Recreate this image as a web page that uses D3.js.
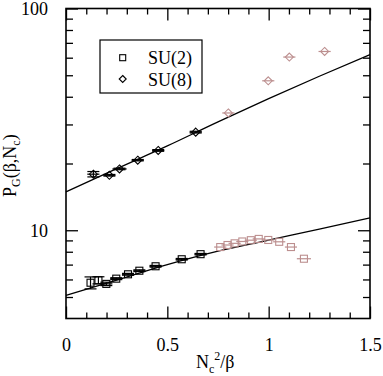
<!DOCTYPE html>
<html>
<head>
<meta charset="utf-8">
<script src="https://cdn.jsdelivr.net/npm/d3@7"></script>
<style>
  body { margin: 0; background: #fff; }
  svg text { font-family: "Liberation Serif", "Times New Roman", serif !important; fill: #000; }
</style>
</head>
<body>
<script>
// data
var su2X = [0.121, 0.160, 0.199, 0.248, 0.306, 0.362, 0.442, 0.571, 0.664],
    su2Y = [5.80, 5.95, 5.73, 6.05, 6.33, 6.57, 6.88, 7.40, 7.80],
    su2Yerr = [0.36, 0.22, 0.10, 0.06, 0.06, 0.06, 0.06, 0.06, 0.06],
    su2Xerr = [0.0, 0.0, 0.03, 0.03, 0.03, 0.03, 0.03, 0.03, 0.03];

var su2OutX = [0.761, 0.797, 0.832, 0.870, 0.912, 0.951, 0.998, 1.052, 1.110, 1.174],
    su2OutY = [8.40, 8.58, 8.73, 8.90, 9.02, 9.14, 9.04, 8.87, 8.40, 7.44],
    su2OutXerr = [0.03, 0.03, 0.03, 0.03, 0.03, 0.03, 0.03, 0.03, 0.03, 0.035];

var su8X = [0.135, 0.214, 0.264, 0.354, 0.455, 0.640],
    su8Y = [17.9, 17.7, 18.9, 20.7, 22.9, 27.7],
    su8Yerr = [0.5, 0.15, 0.15, 0.15, 0.2, 0.25],
    su8Xerr = [0.03, 0.03, 0.035, 0.03, 0.03, 0.03];

var su8OutX = [0.801, 0.998, 1.102, 1.276],
    su8OutY = [33.8, 47.2, 60.4, 64.0],
    su8OutXerr = [0.03, 0.03, 0.03, 0.03];

var fitX = [0, 0.25, 0.5, 0.75, 1.0, 1.25, 1.5],
    fit2Y = [5.08, 5.96, 7.00, 8.05, 9.03, 10.12, 11.37],
    fit8Y = [14.9, 18.95, 24.0, 30.8, 39.2, 49.5, 61.9];

var xMajor = [0, 0.5, 1, 1.5],
    xMinor = [0.1, 0.2, 0.3, 0.4, 0.6, 0.7, 0.8, 0.9, 1.1, 1.2, 1.3, 1.4],
    yMajor = [10, 100],
    yMinor = [5, 6, 7, 8, 9, 20, 30, 40, 50, 60, 70, 80, 90],
    legendNames = ["SU(2)", "SU(8)"];

var width = 383,
    height = 376,
    padL = 66, padR = 370, padT = 8.5, padB = 318.5,
    black = "#000",
    pink = "#bc8f8f",
    serif = "'Liberation Serif', 'Times New Roman', serif";

var xSc = d3.scaleLinear().domain([0, 1.5]).range([padL, padR]),
    ySc = d3.scaleLog().domain([4, 100]).range([padB, padT]);

var svg = d3.select("body").append("svg")
  .attr("width", width)
  .attr("height", height)
  .attr("font-family", serif);

// axes: inward ticks on all four sides
function axisG(axis, tx, ty) {
  var g = svg.append("g")
    .attr("transform", "translate(" + tx + "," + ty + ")")
    .call(axis)
    .attr("font-family", serif)
    .attr("font-size", 18);
  g.select(".domain").remove();
  g.selectAll("line").attr("stroke", black).attr("stroke-width", 1.3);
  g.selectAll("text").attr("fill", black);
  return g;
}

axisG(d3.axisBottom(xSc).tickValues(xMajor).tickSize(-12).tickPadding(20)
  .tickFormat(function(d) { return d; }), 0, padB);
axisG(d3.axisBottom(xSc).tickValues(xMinor).tickSize(-6).tickFormat(""), 0, padB);
axisG(d3.axisTop(xSc).tickValues(xMajor).tickSize(-12).tickFormat(""), 0, padT);
axisG(d3.axisTop(xSc).tickValues(xMinor).tickSize(-6).tickFormat(""), 0, padT);

axisG(d3.axisLeft(ySc).tickValues(yMajor).tickSize(-12).tickPadding(18)
  .tickFormat(d3.format("d")), padL, 0);
axisG(d3.axisLeft(ySc).tickValues(yMinor).tickSize(-7).tickFormat(""), padL, 0);
axisG(d3.axisRight(ySc).tickValues(yMajor).tickSize(-12).tickFormat(""), padR, 0);
axisG(d3.axisRight(ySc).tickValues(yMinor).tickSize(-7).tickFormat(""), padR, 0);

svg.append("rect")
  .attr("x", padL).attr("y", padT)
  .attr("width", padR - padL).attr("height", padB - padT)
  .attr("fill", "none")
  .attr("stroke", black)
  .attr("stroke-width", 1.6);

// fit curves
var line = d3.line()
  .x(function(d) { return xSc(d.x); })
  .y(function(d) { return ySc(d.y); })
  .curve(d3.curveMonotoneX);

[fit2Y, fit8Y].forEach(function(ys) {
  svg.append("path")
    .attr("d", line(fitX.map(function(x, i) { return {x: x, y: ys[i]}; })))
    .attr("fill", "none")
    .attr("stroke", black)
    .attr("stroke-width", 1.3);
});

// markers
function square(g, cx, cy, s, color) {
  g.append("rect")
    .attr("x", cx - s / 2).attr("y", cy - s / 2)
    .attr("width", s).attr("height", s)
    .attr("fill", "none").attr("stroke", color).attr("stroke-width", 1.1);
}

function diamond(g, cx, cy, s, color) {
  var h = s / 2;
  g.append("path")
    .attr("d", "M" + cx + "," + (cy - h) + "L" + (cx + h) + "," + cy +
               "L" + cx + "," + (cy + h) + "L" + (cx - h) + "," + cy + "Z")
    .attr("fill", "none").attr("stroke", color).attr("stroke-width", 1.1);
}

function series(xs, ys, xerr, yerr, color, shape) {
  var g = svg.append("g");
  xs.forEach(function(x, i) {
    var cx = xSc(x), cy = ySc(ys[i]);
    if (xerr && xerr[i]) {
      g.append("line")
        .attr("x1", xSc(x - xerr[i])).attr("x2", xSc(x + xerr[i]))
        .attr("y1", cy).attr("y2", cy)
        .attr("stroke", color).attr("stroke-width", 1.2);
    }
    if (yerr && yerr[i]) {
      var y1 = ySc(ys[i] + yerr[i]), y2 = ySc(ys[i] - yerr[i]);
      g.append("line").attr("x1", cx).attr("x2", cx).attr("y1", y1).attr("y2", y2)
        .attr("stroke", color).attr("stroke-width", 1.2);
      [y1, y2].forEach(function(yy) {
        g.append("line").attr("x1", cx - 6).attr("x2", cx + 6).attr("y1", yy).attr("y2", yy)
          .attr("stroke", color).attr("stroke-width", 1.2);
      });
    }
    shape(g, cx, cy, shape === square ? 7 : 8, color);
  });
}

series(su2OutX, su2OutY, su2OutXerr, null, pink, square);
series(su8OutX, su8OutY, su8OutXerr, null, pink, diamond);
series(su2X, su2Y, su2Xerr, su2Yerr, black, square);
series(su8X, su8Y, su8Xerr, su8Yerr, black, diamond);

// legend
var leg = svg.append("g");
leg.append("rect")
  .attr("x", 100).attr("y", 40)
  .attr("width", 102).attr("height", 53)
  .attr("fill", "#fff").attr("stroke", black).attr("stroke-width", 1.2);
square(leg, 122.7, 57.7, 6, black);
diamond(leg, 122.7, 79, 7, black);
legendNames.forEach(function(name, i) {
  leg.append("text")
    .attr("x", 148).attr("y", 64 + i * 22)
    .attr("font-size", 18)
    .text(name);
});

// axis titles
var xt = svg.append("text")
  .attr("x", 196).attr("y", 368)
  .attr("font-size", 18);
xt.append("tspan").text("N");
xt.append("tspan").attr("dy", 5).attr("font-size", 12).text("c");
xt.append("tspan").attr("dy", -13).attr("font-size", 12).text("2");
xt.append("tspan").attr("dy", 8).text("/β");

var yt = svg.append("text")
  .attr("transform", "translate(16,197) rotate(-90)")
  .attr("font-size", 18);
yt.append("tspan").text("P");
yt.append("tspan").attr("dy", 4).attr("font-size", 12).text("G");
yt.append("tspan").attr("dy", -4).text("(β,N");
yt.append("tspan").attr("dy", 4).attr("font-size", 12).text("c");
yt.append("tspan").attr("dy", -4).text(")");
</script>
</body>
</html>
